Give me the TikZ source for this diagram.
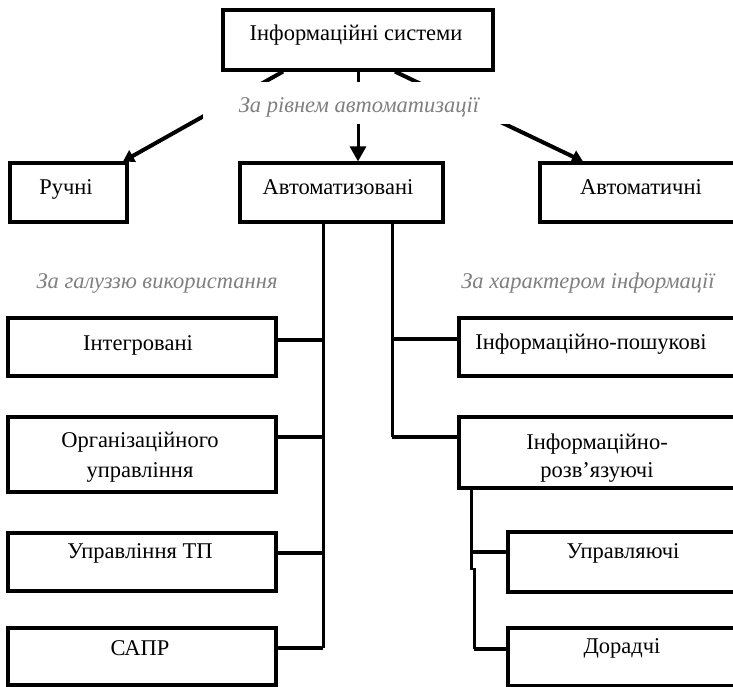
\documentclass[tikz,border=0pt]{standalone}
\usepackage{fontspec}
\setmainfont{Liberation Serif}
\usetikzlibrary{arrows.meta}
\begin{document}
\begin{tikzpicture}[x=1pt,y=-1pt,
  box/.style={draw,line width=3.2pt,rectangle,inner sep=0pt},
  txt/.style={font=\fontsize{22.5}{30}\selectfont,inner sep=0pt,anchor=base},
  lbl/.style={font=\fontsize{22.5}{26}\selectfont\itshape,text=black!50,inner sep=0pt,anchor=base},
  conn/.style={line width=3pt},
  hconn/.style={line width=4pt},
  arr/.style={line width=4pt,-{Triangle[length=11pt,width=13pt]}},
  marr/.style={line width=3pt,-{Triangle[length=15pt,width=16pt]}}
]
\useasboundingbox (0,0) rectangle (733,686);
% boxes
\node[box,minimum width=270pt,minimum height=60pt] (is) at (358,40) {};
\node[box,minimum width=117pt,minimum height=59pt] (ruchni) at (68.5,192.5) {};
\node[box,minimum width=203pt,minimum height=59pt] (avtz) at (341.5,192.5) {};
\node[box,minimum width=220pt,minimum height=59pt] (avtch) at (650,192.5) {};
\node[box,minimum width=268pt,minimum height=58pt] (integ) at (142,347) {};
\node[box,minimum width=268pt,minimum height=75pt] (org) at (142,454.5) {};
\node[box,minimum width=268pt,minimum height=58pt] (utp) at (142,562) {};
\node[box,minimum width=268pt,minimum height=57pt] (sapr) at (142,656.5) {};
\node[box,minimum width=301pt,minimum height=58pt] (ip) at (609.5,347) {};
\node[box,minimum width=301pt,minimum height=71pt] (ir) at (609.5,452.5) {};
\node[box,minimum width=252pt,minimum height=60pt] (upr) at (634,562) {};
\node[box,minimum width=252pt,minimum height=58pt] (dor) at (634,657) {};
% texts
\node[txt] (tis) at (356,40) {Інформаційні системи};
\node[txt] (truchni) at (66,194) {Ручні};
\node[txt] (tavtz) at (338,194) {Автоматизовані};
\node[txt] (tavtch) at (641,194) {Автоматичні};
\node[txt] (tinteg) at (138,350) {Інтегровані};
\node[txt] (torg1) at (140,447) {Організаційного};
\node[txt] (torg2) at (140,477) {управління};
\node[txt] (tutp) at (140,558) {Управління ТП};
\node[txt] (tsapr) at (140,655) {САПР};
\node[txt] (tip) at (591,349) {Інформаційно-пошукові};
\node[txt] (tir1) at (597,449) {Інформаційно-};
\node[txt] (tir2) at (597,477) {розв’язуючі};
\node[txt] (tupr) at (623,558) {Управляючі};
\node[txt] (tdor) at (622,653) {Дорадчі};
% arrows from top
\draw[arr] ([xshift=-75pt]is.south) -- ([xshift=54.5pt]ruchni.north);
\draw[arr] ([xshift=37pt]is.south) -- ([xshift=-67pt]avtch.north);
\draw[marr] (is.south) -- (is.south |- avtz.north);
\node[fill=white,minimum width=310pt,minimum height=42pt,inner sep=0pt] (mask) at (358,103) {};
\node[lbl] (l1) at (359,112) {За рівнем автоматизації};
\node[lbl] (l2) at (157,288) {За галуззю використання};
\node[lbl] (l3) at (588,288) {За характером інформації};
% left trunk
\coordinate (lt) at (323,222);
\coordinate (lb) at (323,648);
\draw[conn] (lt) -- (lb);
\draw[hconn] ([yshift=7pt]integ.east) -- ([yshift=7pt]integ.east -| lt);
\draw[hconn] ([yshift=17.5pt]org.east) -- ([yshift=17.5pt]org.east -| lt);
\draw[hconn] ([yshift=9pt]utp.east) -- ([yshift=9pt]utp.east -| lt);
\draw[hconn] ([yshift=8.5pt]sapr.east) -- ([yshift=8.5pt]sapr.east -| lt);
% right trunk
\coordinate (rt) at (392,222);
\coordinate (rb) at (392,437);
\draw[conn] (rt) -- (rb);
\draw[hconn] ([yshift=8pt]ip.west) -- ([yshift=8pt]ip.west -| rt);
\draw[hconn] ([yshift=15.5pt]ir.west) -- ([yshift=15.5pt]ir.west -| rt);
% sub trunk
\coordinate (st) at (471,488);
\coordinate (sm) at (471,570);
\coordinate (sm2) at (474,568);
\coordinate (sb) at (474,649);
\draw[conn] (st) -- (sm);
\draw[conn] (sm2) -- (sb);
\draw[hconn] ([yshift=10pt]upr.west) -- ([yshift=10pt]upr.west -| st);
\draw[hconn] ([yshift=8pt]dor.west) -- ([yshift=8pt]dor.west -| sb);
\end{tikzpicture}
\end{document}
